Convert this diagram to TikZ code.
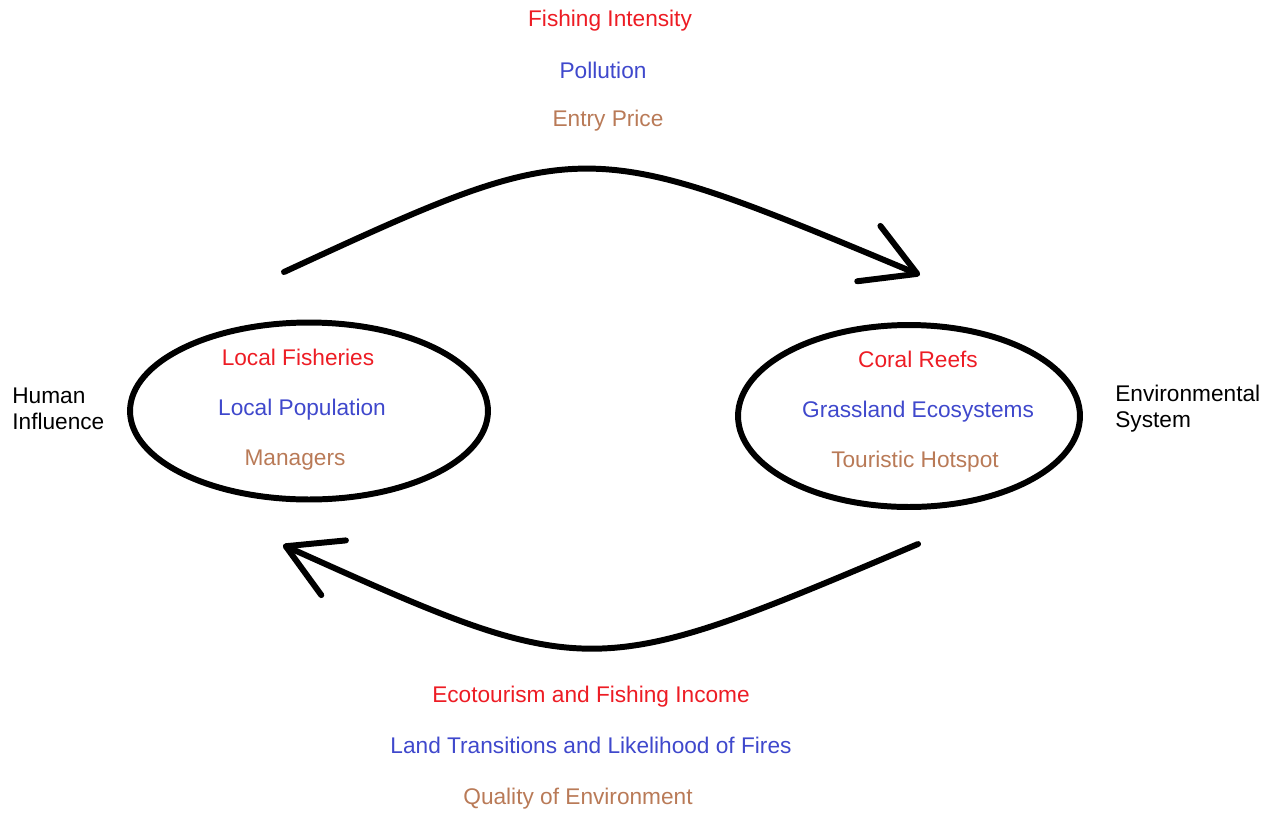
\documentclass[tikz,border=0pt]{standalone}
\usepackage{fontspec}
\setmainfont{Liberation Sans}
\usetikzlibrary{shapes.geometric,arrows.meta,positioning}
\definecolor{paintred}{RGB}{237,28,36}
\definecolor{paintblue}{RGB}{63,72,204}
\definecolor{paintbrown}{RGB}{185,122,87}

\begin{document}
\begin{tikzpicture}[
    x=0.02cm, y=-0.02cm,
    every node/.style ={
        font=\fontsize{12.9}{14.8}\selectfont
    },
    system/.style ={
        ellipse,
        draw=black,
        line width=3.4pt,
        inner sep=0pt
    },
    lbl/.style ={
        anchor=base,
        inner sep=0pt
    },
    flow/.style ={
        line width=3.4pt,
        line cap=round,
        -{Straight Barb[length=1.05cm,width=1.2cm,line cap=round,line join=round]}
    }
    ]
    \useasboundingbox (0,0) rectangle (1277,812);

    \node[system, minimum width=7.16cm, minimum height=3.54cm] (human) at (309,411) {};
    \node[system, minimum width=6.84cm, minimum height=3.64cm] (environment) at (909,416) {};

    \node[anchor=west, align=left, inner sep=0pt] (humanlabel) at (12,409) {Human\\Influence};
    \node[anchor=west, align=left, inner sep=0pt] (envlabel) at (1115,409) {Environmental\\System};

    \foreach \x/ \pos/ \txt/ \col in {{fisheries/(298,365)/Local Fisheries/paintred}, {population/(302,415)/Local Population/paintblue},
                                      {managers/(295,465)/Managers/paintbrown}, {reefs/(918,367)/Coral Reefs/paintred},
                                      {grassland/(918,417)/Grassland Ecosystems/paintblue}, {hotspot/(915,467)/Touristic Hotspot/paintbrown}}
        \node[lbl, text=\col] (\x) at \pos {\txt};

    % pressures on the environment
    \foreach \x/ \pos/ \txt/ \col in {{intensity/(610,26)/Fishing Intensity/paintred}, {pollution/(603,78)/Pollution/paintblue},
                                      {price/(608,126)/Entry Price/paintbrown}}
        \node[lbl, text=\col] (\x) at \pos {\txt};

    % feedback to people
    \foreach \x/ \pos/ \txt/ \col in {{income/(591,702)/Ecotourism and Fishing Income/paintred},
                                      {fires/(591,753)/Land Transitions and Likelihood of Fires/paintblue},
                                      {quality/(578,804)/Quality of Environment/paintbrown}}
        \node[lbl, text=\col] (\x) at \pos {\txt};

    \coordinate (impactstart) at (284,272);
    \coordinate (impactend) at (920,275);
    \coordinate (feedbackstart) at (918,544);
    \coordinate (feedbackend) at (283,545);

    \draw[flow] (impactstart) .. controls (583,134) .. (impactend);
    \draw[flow] (feedbackstart) .. controls (590,683) .. (feedbackend);
\end{tikzpicture}
\end{document}
